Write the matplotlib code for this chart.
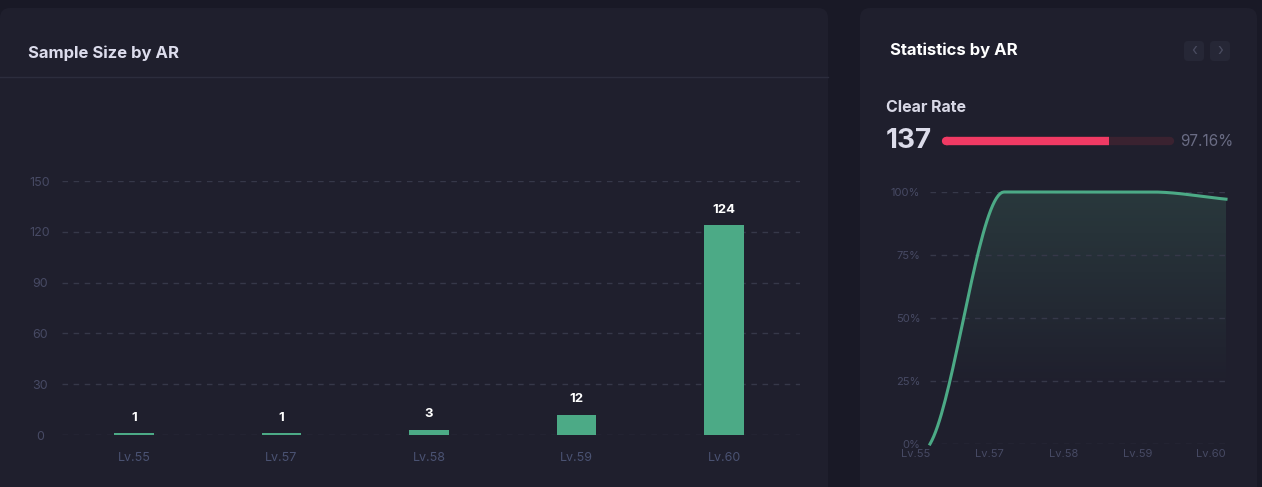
import numpy as np
import matplotlib.pyplot as plt
from matplotlib.patches import FancyBboxPatch
from matplotlib.path import Path
from matplotlib.patches import PathPatch

plt.rcParams['font.family'] = ['Inter', 'DejaVu Sans']

levels = ['Lv.55', 'Lv.57', 'Lv.58', 'Lv.59', 'Lv.60']
samples = [1, 1, 3, 12, 124]
clear_rate = [0, 100, 100, 100, 97.16]
clear_count = 137
clear_pct = '97.16%'
bar_fill = 0.728

W, H = 1262, 487
OUTER = '#191926'
PANEL = '#1f1f2d'
GREEN = '#4caa86'
TICK = '#474a64'
XTICK = '#4a5272'
GRID = '#363849'

fig = plt.figure(figsize=(W / 100, H / 100), dpi=100, facecolor=OUTER)
bg = fig.add_axes([0, 0, 1, 1])
bg.set_xlim(0, W)
bg.set_ylim(H, 0)
bg.axis('off')

def panel(x0, y0, x1, y1):
    bg.add_patch(FancyBboxPatch((x0, y0), x1 - x0, y1 - y0, boxstyle='round,pad=0,rounding_size=10',
                                fc=PANEL, ec='none'))

panel(0, 8, 828, 520)
panel(860, 8, 1257, 520)
bg.plot([0, 828], [77, 77], color='#2c2d3d', lw=1)
bg.text(28, 53, 'Sample Size by AR', color='#dcdcec', fontsize=12, fontweight='bold', va='center')
bg.text(890, 50, 'Statistics by AR', color='white', fontsize=12, fontweight='bold', va='center')
for bx, ch in [(1184, '‹'), (1210, '›')]:
    bg.add_patch(FancyBboxPatch((bx, 41), 20, 20, boxstyle='round,pad=0,rounding_size=4',
                                fc='#262736', ec='none'))
    bg.text(bx + 10, 50, ch, color='#4a4c60', fontsize=11, ha='center', va='center')
bg.text(886, 107, 'Clear Rate', color='#d8d8e6', fontsize=11.5, fontweight='bold', va='center')
bg.text(886, 141, str(clear_count), color='#dcdcea', fontsize=20, fontweight='bold', va='center')
bg.plot([946, 1170], [141, 141], color='#3a2230', lw=6, solid_capstyle='round')
bg.plot([946, 946 + (1170 - 946) * bar_fill], [141, 141], color='#f03a64', lw=6, solid_capstyle='butt')
bg.plot([946, 948], [141, 141], color='#f03a64', lw=6, solid_capstyle='round')
bg.text(1180, 141, clear_pct, color='#6a6c84', fontsize=11, va='center')

# bar chart
x = np.arange(len(levels))
ax = fig.add_axes([62 / W, (H - 435) / H, (800 - 62) / W, 254 / H])
ax.set_facecolor('none')
ax.bar(x, samples, width=0.27, color=GREEN, zorder=3)
for xi, v in zip(x, samples):
    ax.annotate(str(v), (xi, v), xytext=(0, 9), textcoords='offset points', ha='center',
                color='white', fontsize=9.5, fontweight='bold')
ax.set_xlim((62 - 134) / 147.5, 4.515)
ax.set_ylim(0, 150)
ax.set_yticks(range(0, 151, 30))
ax.yaxis.grid(True, color=GRID, ls=(0, (4, 4)), lw=1)
ax.set_xticks(x, levels)
ax.tick_params(axis='x', length=0, colors=XTICK, labelsize=9, pad=12)
ax.tick_params(axis='y', length=0, colors=TICK, labelsize=9, pad=16)
for lab in ax.get_yticklabels():
    lab.set_horizontalalignment('center')
for s in ax.spines.values():
    s.set_visible(False)

# line chart
ax2 = fig.add_axes([930 / W, (H - 444) / H, (1228 - 930) / W, 252 / H])
ax2.set_facecolor('none')
xl = (0, (1228 - 930) / 74)
ax2.set_yticks([0, 25, 50, 75, 100])
ax2.set_yticklabels(['0%', '25%', '50%', '75%', '100%'])
ax2.yaxis.grid(True, color=GRID, ls=(0, (4, 4)), lw=1)
ax2.set_xticks([])
for s in ax2.spines.values():
    s.set_visible(False)
ax2.tick_params(length=0, colors=TICK, labelsize=8, pad=7)
for i, lv in enumerate(levels):
    ax2.text(i - 0.2, -2, lv, color=TICK, fontsize=8, ha='center', va='top')

# monotone cubic (pchip) for the smooth curve
xs = np.arange(len(clear_rate), dtype=float)
ys = np.array(clear_rate, dtype=float)
d = np.diff(ys)
m = np.zeros_like(ys)
for k in range(1, len(ys) - 1):
    if d[k - 1] * d[k] > 0:
        m[k] = 2 / (1 / d[k - 1] + 1 / d[k])
m[0], m[-1] = d[0] * 0.5, d[-1]
xx, yy = [], []
for k in range(len(ys) - 1):
    t = np.linspace(0, 1, 40)
    h00 = 2 * t**3 - 3 * t**2 + 1
    h10 = t**3 - 2 * t**2 + t
    h01 = -2 * t**3 + 3 * t**2
    h11 = t**3 - t**2
    xx.extend(xs[k] + t)
    yy.extend(h00 * ys[k] + h10 * m[k] + h01 * ys[k + 1] + h11 * m[k + 1])
xx, yy = np.array(xx), np.array(yy)

grad = np.linspace(1, 0, 256).reshape(-1, 1)
rgba = np.zeros((256, 1, 4))
rgba[..., 0], rgba[..., 1], rgba[..., 2] = 0.17, 0.24, 0.25
rgba[..., 3] = np.clip(grad * 1.3 - 0.3, 0, 1) * 0.85
im = ax2.imshow(rgba, extent=[xx[0], xx[-1], 0, 100], aspect='auto', origin='upper', zorder=1)
verts = np.vstack([np.column_stack([xx, yy]), [[xx[-1], 0], [xx[0], 0]]])
clip = PathPatch(Path(verts), transform=ax2.transData, fc='none', ec='none')
ax2.add_patch(clip)
im.set_clip_path(clip)
ax2.plot(xx, yy, color=GREEN, lw=2.2, zorder=3, clip_on=False)
ax2.set_xlim(*xl)
ax2.set_ylim(0, 100)

fig.savefig('out.png', dpi=100, facecolor=OUTER)
